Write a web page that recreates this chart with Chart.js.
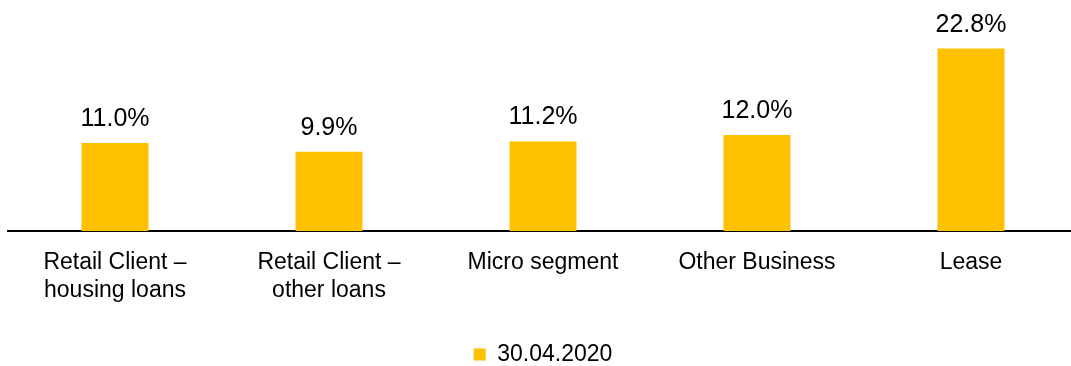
<!DOCTYPE html>
<html>
<head>
<meta charset="utf-8">
<script src="https://cdn.jsdelivr.net/npm/chart.js@4/dist/chart.umd.min.js"></script>
<style>
  html, body { margin: 0; padding: 0; background: #fff; overflow: hidden; }
  #wrap { position: relative; width: 1085px; height: 378px; }
</style>
</head>
<body>
<div id="wrap"><canvas id="chart"></canvas></div>
<script>
const categories = [
    ["Retail Client \u2013", "housing loans"],
    ["Retail Client \u2013", "other loans"],
    "Micro segment",
    "Other Business",
    "Lease"
];
const seriesName = "30.04.2020";
const shares = [11.0, 9.9, 11.2, 12.0, 22.8];

const FONT = '"Liberation Sans", Arial, sans-serif';
const GOLD = '#FFC000';

// percentage written above each bar
const valueLabels = {
    id: 'valueLabels',
    afterDatasetsDraw(chart) {
        const ctx = chart.ctx;
        const meta = chart.getDatasetMeta(0);
        ctx.save();
        ctx.font = '25px ' + FONT;
        ctx.fillStyle = '#000';
        ctx.textAlign = 'center';
        ctx.textBaseline = 'alphabetic';
        meta.data.forEach((bar, i) => {
            ctx.fillText(shares[i].toFixed(1) + '%', bar.x, bar.y - 17);
        });
        ctx.restore();
    }
};

new Chart(document.getElementById('chart'), {
    type: 'bar',
    data: {
        labels: categories,
        datasets: [{
            label: seriesName,
            data: shares,
            backgroundColor: GOLD,
            borderWidth: 0,
            barPercentage: 0.313,
            categoryPercentage: 1
        }]
    },
    options: {
        responsive: true,
        maintainAspectRatio: false,
        animation: false,
        layout: { padding: { top: 31, left: 8, right: 7, bottom: 2 } },
        plugins: {
            tooltip: { enabled: false },
            legend: {
                position: 'bottom',
                labels: {
                    color: '#000',
                    font: { family: FONT, size: 23 },
                    boxWidth: 12,
                    boxHeight: 12,
                    padding: 0
                }
            }
        },
        scales: {
            x: {
                grid: { display: false, drawTicks: false },
                border: { display: true, color: '#000', width: 2 },
                ticks: {
                    color: '#000',
                    padding: 17,
                    maxRotation: 0,
                    autoSkip: false,
                    font: { family: FONT, size: 23, lineHeight: 1.24 }
                },
                afterFit(scale) { scale.height = 112; }
            },
            y: {
                display: false,
                min: 0,
                max: 25
            }
        }
    },
    plugins: [valueLabels]
});
</script>
</body>
</html>
